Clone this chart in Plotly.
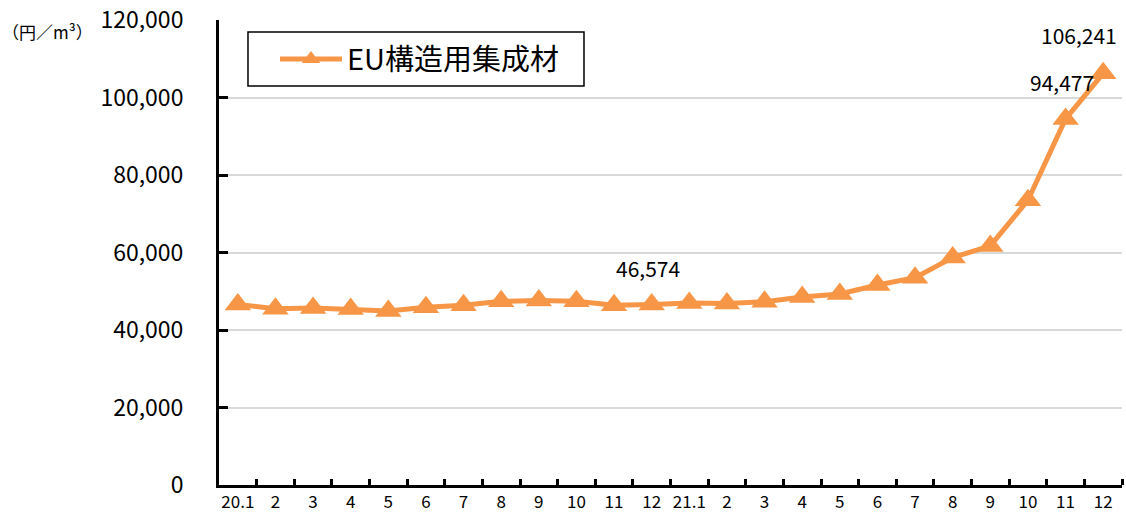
import plotly.graph_objects as go

months = ["20.1", "2", "3", "4", "5", "6", "7", "8", "9", "10", "11", "12",
          "21.1", "2", "3", "4", "5", "6", "7", "8", "9", "10", "11", "12"]
eu_glulam = [46600, 45500, 45700, 45400, 44900, 45900, 46400, 47400, 47600, 47400, 46400, 46574,
             47000, 46830, 47300, 48500, 49300, 51600, 53500, 58700, 61700, 73500, 94477, 106241]
labeled_idx = [11, 22, 23]
y_ticks = [0, 20000, 40000, 60000, 80000, 100000, 120000]

x = list(range(len(months)))
orange = "#F79646"
font_family = "Noto Sans CJK JP, Noto Sans, sans-serif"

fig = go.Figure()
fig.add_trace(go.Scatter(
    x=x, y=eu_glulam, mode="lines+markers", name="EU構造用集成材",
    line=dict(color=orange, width=5),
    marker=dict(symbol="triangle-up", size=23, color=orange),
    cliponaxis=False,
))

for i in labeled_idx:
    txt = f"{eu_glulam[i]:,}"
    if i == 23:
        fig.add_annotation(x=x[i], y=eu_glulam[i], text=txt, showarrow=False,
                           xanchor="right", xshift=16, yshift=38,
                           font=dict(size=21, color="black", family=font_family))
    else:
        fig.add_annotation(x=x[i], y=eu_glulam[i], text=txt, showarrow=False,
                           xanchor="center", xshift=-4, yshift=37,
                           font=dict(size=21, color="black", family=font_family))

fig.add_annotation(xref="paper", yref="paper", x=-0.243, y=0.975, xanchor="left", yanchor="middle",
                   text="（円／m³）", showarrow=False,
                   font=dict(size=17, color="black", family=font_family))

# legend frame
fig.add_shape(type="rect", xref="paper", yref="paper", x0=0.0321, x1=0.4042, y0=0.858, y1=0.974,
              line=dict(color="black", width=1.5), fillcolor="white", layer="below")

fig.update_layout(
    width=1126, height=520,
    margin=dict(l=219, r=4, t=20, b=35, autoexpand=False),
    plot_bgcolor="white", paper_bgcolor="white",
    showlegend=True,
    legend=dict(x=0.062, y=0.916, xanchor="left", yanchor="middle",
                borderwidth=0, bgcolor="rgba(0,0,0,0)",
                font=dict(size=29, color="black", family=font_family),
                itemwidth=62),
    font=dict(family=font_family, color="black"),
)
fig.update_xaxes(
    range=[-0.5, len(months) - 0.5], automargin=False,
    tickmode="array", tickvals=x, ticktext=months,
    ticks="", showgrid=False, zeroline=False,
    showline=True, linecolor="black", linewidth=3,
    tickfont=dict(size=17, color="black", family=font_family),
    minor=dict(tickmode="array", tickvals=[i + 0.5 for i in range(len(months))],
               ticks="inside", ticklen=6, tickwidth=3, tickcolor="black", showgrid=False),
)
fig.update_yaxes(
    range=[0, 120000], automargin=False, tickmode="array", tickvals=y_ticks,
    ticktext=[f"{v:,}" for v in y_ticks],
    ticks="inside", ticklen=9, tickwidth=3, tickcolor="black",
    ticklabelstandoff=28,
    showgrid=True, gridcolor="#D9D9D9", gridwidth=2,
    zeroline=False, showline=True, linecolor="black", linewidth=3,
    tickfont=dict(size=23, color="black", family=font_family),
)

fig.write_html("out.html", config={"displayModeBar": False},
               post_script="document.body.style.margin='0';document.body.style.overflow='hidden';")
